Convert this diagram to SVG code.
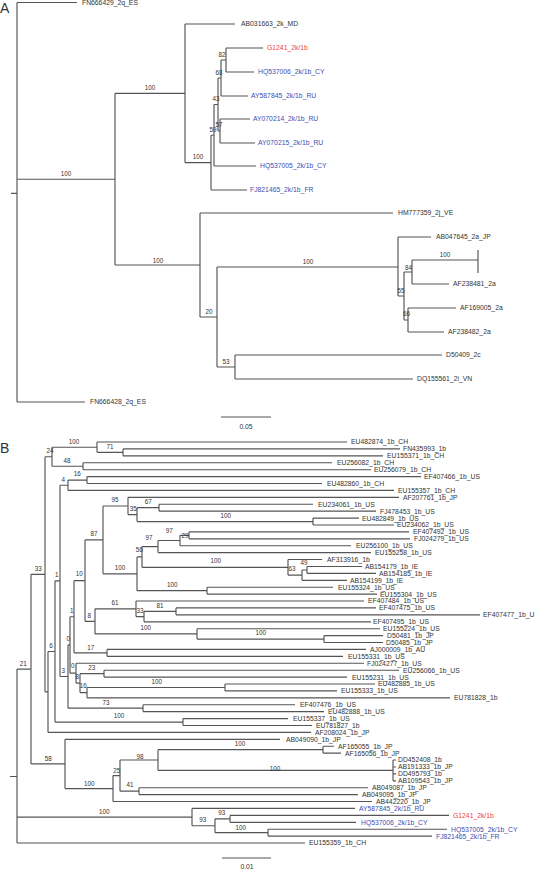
<svg xmlns="http://www.w3.org/2000/svg" width="535" height="878" viewBox="0 0 535 878">
<style>
.br{fill:none;stroke:#555;stroke-width:1.15}
.t{font-family:"Liberation Sans",Arial,sans-serif;font-size:6.8px;fill:#333}
.bs{font-family:"Liberation Sans",Arial,sans-serif;font-size:6.3px;fill:#333;text-anchor:middle}
.pl{font-family:"Liberation Sans",Arial,sans-serif;font-size:14px;fill:#333}
.sc{font-family:"Liberation Sans",Arial,sans-serif;font-size:6.8px;fill:#333;text-anchor:middle}
.blue{fill:#3c4eb0}
.red{fill:#e8453c}
</style>
<rect width="535" height="878" fill="#fff"/>
<text class="pl" x="0" y="13">A</text>
<text class="pl" x="0" y="453">B</text>

<g id="connectors">
<!-- Panel A -->
<path class="br" d="M17,2.5V402M17,2.5H77M17,179.2H115M17,402H85M11,193.3H17"/>
<path class="br" d="M115,93.3V265M115,93.3H185M115,265H200"/>
<path class="br" d="M185,24V162.6M185,24H235M185,162.6H211"/>
<path class="br" d="M211,135.2V190M211,135.2H214M211,190H247"/>
<path class="br" d="M214,104.5V166M214,104.5H218M214,166H256"/>
<path class="br" d="M218,78V131M218,78H221M218,131H220"/>
<path class="br" d="M221,60V96M221,60H226M221,96H248"/>
<path class="br" d="M226,48V72M226,48H263M226,72H254"/>
<path class="br" d="M220,119V143M220,119H250M220,143H255"/>
<path class="br" d="M200,213V317M200,213H393M200,317H217"/>
<path class="br" d="M217,267V367M217,267H398M217,367H235"/>
<path class="br" d="M398,237V296M398,237H431M398,296H404"/>
<path class="br" d="M404,272V320M404,272H412M404,320H408"/>
<path class="br" d="M412,260V284M412,260H478M478,250V273M412,284H449"/>
<path class="br" d="M408,308V332M408,308H456M408,332H444"/>
<path class="br" d="M235,355V379M235,355H442M235,379H413"/>
<path class="br" d="M221,417H271"/>
<!-- Panel B -->
<path class="br" d="M17,669.1V843M17,669.1H31M17,817.1H192M17,843H305M10,776.5H17"/>
<path class="br" d="M31,574.3V763.9M31,574.3H45M31,763.9H65"/>
<path class="br" d="M45,456.7V691.9M45,456.7H52M45,691.9H48"/>
<path class="br" d="M52,447.2V466.2M52,447.2H97M52,466.2H83"/>
<path class="br" d="M97,442V452.35M97,442H347M97,452.35H123"/>
<path class="br" d="M123,448.9V455.8M123,448.9H400M123,455.8H383"/>
<path class="br" d="M83,462.7V469.7M83,462.7H332M83,469.7H371"/>
<path class="br" d="M48,651.45V732.4M48,651.45H55M48,732.4H311"/>
<path class="br" d="M55,580.85V722.05M55,580.85H60M55,722.05H183"/>
<path class="br" d="M183,718.6V725.5M183,718.6H288M183,725.5H312"/>
<path class="br" d="M60,485.2V676.5M60,485.2H68M60,676.5H68"/>
<path class="br" d="M68,480.05V490.4M68,480.05H87M68,490.4H394"/>
<path class="br" d="M87,476.6V483.5M87,476.6H421M87,483.5H322"/>
<path class="br" d="M68,644.9V708.15M68,644.9H70M68,708.15H143"/>
<path class="br" d="M143,704.7V711.6M143,704.7H295M143,711.6H324"/>
<path class="br" d="M70,616.7V673.15M70,616.7H74M70,673.15H76"/>
<path class="br" d="M74,580.6V652.85M74,580.6H85M74,652.85H107"/>
<path class="br" d="M107,649.4V656.3M107,649.4H366M107,656.3H343"/>
<path class="br" d="M76,663.2V683.1M76,663.2H364M76,683.1H80"/>
<path class="br" d="M80,673.65V692.6M80,673.65H104M80,692.6H87"/>
<path class="br" d="M104,670.2V677.1M104,670.2H399M104,677.1H347"/>
<path class="br" d="M87,687.45V697.8M87,687.45H225M87,697.8H450"/>
<path class="br" d="M225,684V690.9M225,684H375M225,690.9H337"/>
<path class="br" d="M85,539.9V621.35M85,539.9H103M85,621.35H95"/>
<path class="br" d="M103,505.95V573.8M103,505.95H128M103,573.8H137"/>
<path class="br" d="M128,497.3V514.6M128,497.3H399M128,514.6H137"/>
<path class="br" d="M137,507.65V521.55M137,507.65H159M137,521.55H313"/>
<path class="br" d="M159,504.2V511.1M159,504.2H313M159,511.1H376"/>
<path class="br" d="M313,518.1V525M313,518.1H359M313,525H394"/>
<path class="br" d="M137,556.9V590.65M137,556.9H142M137,590.65H207"/>
<path class="br" d="M142,546.55V567.3M142,546.55H158M142,567.3H288"/>
<path class="br" d="M158,540.5V552.6M158,540.5H180M158,552.6H371"/>
<path class="br" d="M180,535.35V545.7M180,535.35H189M180,545.7H351"/>
<path class="br" d="M189,531.9V538.8M189,531.9H409M189,538.8H410"/>
<path class="br" d="M288,559.5V575.1M288,559.5H322M288,575.1H302"/>
<path class="br" d="M302,569.95V580.3M302,569.95H307M302,580.3H347"/>
<path class="br" d="M307,566.5V573.4M307,566.5H362M307,573.4H376"/>
<path class="br" d="M207,587.2V594.1M207,587.2H333M207,594.1H377"/>
<path class="br" d="M95,608.8V633.9M95,608.8H136M95,633.9H197"/>
<path class="br" d="M136,601V616.6M136,601H364M136,616.6H144"/>
<path class="br" d="M144,611.35V621.8M144,611.35H176M144,621.8H371"/>
<path class="br" d="M176,607.9V614.8M176,607.9H376M176,614.8H480"/>
<path class="br" d="M197,628.7V639.05M197,628.7H380M197,639.05H324"/>
<path class="br" d="M324,635.6V642.5M324,635.6H383M324,642.5H383"/>
<path class="br" d="M65,739.3V788.55M65,739.3H280M65,788.55H113"/>
<path class="br" d="M113,775.6V801.5M113,775.6H120M113,801.5H372"/>
<path class="br" d="M120,760V791.15M120,760H158M120,791.15H139"/>
<path class="br" d="M139,787.7V794.6M139,787.7H368M139,794.6H358"/>
<path class="br" d="M158,749.65V770.4M158,749.65H323M158,770.4H393"/>
<path class="br" d="M323,746.2V753.1M323,746.2H334M323,753.1H341"/>
<path class="br" d="M393,760V780.8M393,760H396M393,767H396M393,773.9H396M393,780.8H396"/>
<path class="br" d="M192,808.4V825.75M192,808.4H355M192,825.75H215"/>
<path class="br" d="M215,818.85V832.65M215,818.85H230M215,832.65H268"/>
<path class="br" d="M230,815.4V822.3M230,815.4H449M230,822.3H356"/>
<path class="br" d="M268,829.2V836.1M268,829.2H447M268,836.1H432"/>
<path class="br" d="M222,858H271"/>
</g>

<!-- Panel A tips -->
<g id="A_FN666429"><text class="t" x="82" y="5.2">FN666429_2q_ES</text></g>
<g id="A_AB031663"><text class="t" x="241" y="26.4">AB031663_2k_MD</text></g>
<g id="A_G1241"><text class="t red" x="267" y="50.4">G1241_2k/1b</text></g>
<g id="A_HQ537006"><text class="t blue" x="258" y="74.4">HQ537006_2k/1b_CY</text></g>
<g id="A_AY587845"><text class="t blue" x="251" y="98.4">AY587845_2k/1b_RU</text></g>
<g id="A_AY070214"><text class="t blue" x="253" y="121.4">AY070214_2k/1b_RU</text></g>
<g id="A_AY070215"><text class="t blue" x="258" y="145.4">AY070215_2k/1b_RU</text></g>
<g id="A_HQ537005"><text class="t blue" x="260" y="168.4">HQ537005_2k/1b_CY</text></g>
<g id="A_FJ821465"><text class="t blue" x="250" y="192.4">FJ821465_2k/1b_FR</text></g>
<g id="A_HM777359"><text class="t" x="398" y="215.4">HM777359_2j_VE</text></g>
<g id="A_AB047645"><text class="t" x="436" y="239.4">AB047645_2a_JP</text></g>
<g id="A_AF238481"><text class="t" x="453" y="286.4">AF238481_2a</text></g>
<g id="A_AF169005"><text class="t" x="460" y="310.4">AF169005_2a</text></g>
<g id="A_AF238482"><text class="t" x="448" y="334.4">AF238482_2a</text></g>
<g id="A_D50409"><text class="t" x="446" y="357.4">D50409_2c</text></g>
<g id="A_DQ155561"><text class="t" x="417" y="381.4">DQ155561_2i_VN</text></g>
<g id="A_FN666428"><text class="t" x="90" y="404.4">FN666428_2q_ES</text></g>

<!-- Panel A support values -->
<g id="A_boot">
<text class="bs" x="66" y="175.5">100</text>
<text class="bs" x="150" y="89.5">100</text>
<text class="bs" x="198" y="158.5">100</text>
<text class="bs" x="222" y="56.5">82</text>
<text class="bs" x="219" y="74.5">68</text>
<text class="bs" x="216" y="100.5">43</text>
<text class="bs" x="219" y="126.5">57</text>
<text class="bs" x="213" y="131.5">59</text>
<text class="bs" x="158" y="262.5">100</text>
<text class="bs" x="209" y="313.5">20</text>
<text class="bs" x="308" y="263.5">100</text>
<text class="bs" x="445" y="257">100</text>
<text class="bs" x="408.5" y="270">84</text>
<text class="bs" x="401" y="293">55</text>
<text class="bs" x="406.5" y="316">66</text>
<text class="bs" x="226" y="363.5">53</text>
</g>
<g id="A_scale"><text class="sc" x="246" y="428.5">0.05</text></g>

<!-- Panel B tips -->
<g id="B_tips">
<g id="B_EU482874"><text class="t" x="351" y="444.4">EU482874_1b_CH</text></g>
<g id="B_FN435993"><text class="t" x="403" y="451.3">FN435993_1b</text></g>
<g id="B_EU155371"><text class="t" x="387" y="458.2">EU155371_1b_CH</text></g>
<g id="B_EU256082"><text class="t" x="337" y="465.1">EU256082_1b_CH</text></g>
<g id="B_EU256079"><text class="t" x="374" y="472.1">EU256079_1b_CH</text></g>
<g id="B_EF407466"><text class="t" x="424" y="479">EF407466_1b_US</text></g>
<g id="B_EU482860"><text class="t" x="327" y="485.9">EU482860_1b_CH</text></g>
<g id="B_EU155357"><text class="t" x="398" y="492.8">EU155357_1b_CH</text></g>
<g id="B_AF207761"><text class="t" x="403" y="499.7">AF207761_1b_JP</text></g>
<g id="B_EU234061"><text class="t" x="318" y="506.6">EU234061_1b_US</text></g>
<g id="B_FJ478453"><text class="t" x="380" y="513.5">FJ478453_1b_US</text></g>
<g id="B_EU482849"><text class="t" x="362" y="520.5">EU482849_1b_US</text></g>
<g id="B_EU234062"><text class="t" x="397" y="527.4">EU234062_1b_US</text></g>
<g id="B_EF407492"><text class="t" x="413" y="534.3">EF407492_1b_US</text></g>
<g id="B_FJ024279"><text class="t" x="414" y="541.2">FJ024279_1b_US</text></g>
<g id="B_EU256100"><text class="t" x="356" y="548.1">EU256100_1b_US</text></g>
<g id="B_EU155258"><text class="t" x="375" y="555">EU155258_1b_US</text></g>
<g id="B_AF313916"><text class="t" x="327" y="561.9">AF313916_1b</text></g>
<g id="B_AB154179"><text class="t" x="365" y="568.9">AB154179_1b_IE</text></g>
<g id="B_AB154185"><text class="t" x="379" y="575.8">AB154185_1b_IE</text></g>
<g id="B_AB154199"><text class="t" x="350" y="582.7">AB154199_1b_IE</text></g>
<g id="B_EU155324"><text class="t" x="338" y="589.6">EU155324_1b_US</text></g>
<g id="B_EU155304"><text class="t" x="380" y="596.5">EU155304_1b_US</text></g>
<g id="B_EF407484"><text class="t" x="368" y="603.4">EF407484_1b_US</text></g>
<g id="B_EF407475"><text class="t" x="379" y="610.3">EF407475_1b_US</text></g>
<g id="B_EF407477"><text class="t" x="483" y="617.2">EF407477_1b_U</text></g>
<g id="B_EF407495"><text class="t" x="373" y="624.2">EF407495_1b_US</text></g>
<g id="B_EU155224"><text class="t" x="383" y="631.1">EU155224_1b_US</text></g>
<g id="B_D50481"><text class="t" x="387" y="638">D50481_1b_JP</text></g>
<g id="B_D50485"><text class="t" x="386" y="644.9">D50485_1b_JP</text></g>
<g id="B_AJ000009"><text class="t" x="370" y="651.8">AJ000009_1b_AU</text></g>
<g id="B_EU155331"><text class="t" x="348" y="658.7">EU155331_1b_US</text></g>
<g id="B_FJ024277"><text class="t" x="367" y="665.6">FJ024277_1b_US</text></g>
<g id="B_EU256066"><text class="t" x="403" y="672.6">EU256066_1b_US</text></g>
<g id="B_EU155231"><text class="t" x="352" y="679.5">EU155231_1b_US</text></g>
<g id="B_EU482885"><text class="t" x="378" y="686.4">EU482885_1b_US</text></g>
<g id="B_EU155333"><text class="t" x="341" y="693.3">EU155333_1b_US</text></g>
<g id="B_EU781828"><text class="t" x="454" y="700.2">EU781828_1b</text></g>
<g id="B_EF407476"><text class="t" x="300" y="707.1">EF407476_1b_US</text></g>
<g id="B_EU482888"><text class="t" x="328" y="714">EU482888_1b_US</text></g>
<g id="B_EU155337"><text class="t" x="293" y="721">EU155337_1b_US</text></g>
<g id="B_EU781827"><text class="t" x="316" y="727.9">EU781827_1b</text></g>
<g id="B_AF208024"><text class="t" x="315" y="734.8">AF208024_1b_JP</text></g>
<g id="B_AB049090"><text class="t" x="286" y="741.7">AB049090_1b_JP</text></g>
<g id="B_AF165055"><text class="t" x="338" y="748.6">AF165055_1b_JP</text></g>
<g id="B_AF165056"><text class="t" x="345" y="755.5">AF165056_1b_JP</text></g>
<g id="B_DD452408"><text class="t" x="398" y="762.4">DD452408_1b</text></g>
<g id="B_AB191333"><text class="t" x="398" y="769.4">AB191333_1b_JP</text></g>
<g id="B_DD495793"><text class="t" x="398" y="776.3">DD495793_1b</text></g>
<g id="B_AB109543"><text class="t" x="398" y="783.2">AB109543_1b_JP</text></g>
<g id="B_AB049087"><text class="t" x="372" y="790.1">AB049087_1b_JP</text></g>
<g id="B_AB049095"><text class="t" x="362" y="797">AB049095_1b_JP</text></g>
<g id="B_AB442220"><text class="t" x="376" y="803.9">AB442220_1b_JP</text></g>
<g id="B_AY587845"><text class="t blue" x="359" y="810.8">AY587845_2k/1b_RU</text></g>
<g id="B_G1241"><text class="t red" x="453" y="817.8">G1241_2k/1b</text></g>
<g id="B_HQ537006"><text class="t blue" x="361" y="824.7">HQ537006_2k/1b_CY</text></g>
<g id="B_HQ537005"><text class="t blue" x="451" y="831.6">HQ537005_2k/1b_CY</text></g>
<g id="B_FJ821465"><text class="t blue" x="436" y="838.5">FJ821465_2k/1b_FR</text></g>
<g id="B_EU155359"><text class="t" x="309" y="845.4">EU155359_1b_CH</text></g>
</g>

<!-- Panel B support values -->
<g id="B_boot">
<text class="bs" x="74" y="444">100</text>
<text class="bs" x="110" y="449">71</text>
<text class="bs" x="50" y="453">24</text>
<text class="bs" x="67" y="463">48</text>
<text class="bs" x="77.3" y="476.2">16</text>
<text class="bs" x="63.3" y="481.5">4</text>
<text class="bs" x="115" y="502.2">95</text>
<text class="bs" x="148.3" y="503.9">67</text>
<text class="bs" x="133.3" y="510.5">35</text>
<text class="bs" x="225.7" y="517.9">100</text>
<text class="bs" x="94" y="535.5">87</text>
<text class="bs" x="169.3" y="533.2">97</text>
<text class="bs" x="149" y="539.5">97</text>
<text class="bs" x="185" y="538.2">29</text>
<text class="bs" x="139.3" y="552.2">56</text>
<text class="bs" x="215.7" y="563.2">100</text>
<text class="bs" x="292" y="571.2">63</text>
<text class="bs" x="304" y="565.2">49</text>
<text class="bs" x="38.3" y="570.5">33</text>
<text class="bs" x="120" y="569.5">100</text>
<text class="bs" x="56.7" y="577.2">1</text>
<text class="bs" x="79.3" y="576.2">10</text>
<text class="bs" x="172.3" y="586.5">100</text>
<text class="bs" x="115" y="604.9">61</text>
<text class="bs" x="160" y="607.9">81</text>
<text class="bs" x="140" y="612.9">33</text>
<text class="bs" x="71.7" y="612.9">1</text>
<text class="bs" x="89.3" y="618.2">8</text>
<text class="bs" x="145.7" y="629.5">100</text>
<text class="bs" x="260.7" y="634.9">100</text>
<text class="bs" x="68.3" y="640.9">0</text>
<text class="bs" x="51" y="647.5">6</text>
<text class="bs" x="90.7" y="649.5">17</text>
<text class="bs" x="23.3" y="666.2">21</text>
<text class="bs" x="72.7" y="668.2">0</text>
<text class="bs" x="91.7" y="669.5">23</text>
<text class="bs" x="63.3" y="672.9">3</text>
<text class="bs" x="77.3" y="678.9">8</text>
<text class="bs" x="83.3" y="688.2">16</text>
<text class="bs" x="156.7" y="683.9">100</text>
<text class="bs" x="106" y="704.9">73</text>
<text class="bs" x="119" y="718.2">100</text>
<text class="bs" x="240" y="745.5">100</text>
<text class="bs" x="48.3" y="760.5">58</text>
<text class="bs" x="140" y="758.9">98</text>
<text class="bs" x="116.7" y="773.2">25</text>
<text class="bs" x="275" y="770.5">100</text>
<text class="bs" x="89.3" y="785.5">100</text>
<text class="bs" x="130" y="787.2">41</text>
<text class="bs" x="104.3" y="813.9">100</text>
<text class="bs" x="221.7" y="815.2">93</text>
<text class="bs" x="202.7" y="822.2">93</text>
<text class="bs" x="240.7" y="829.5">100</text>
</g>
<g id="B_scale"><text class="sc" x="247" y="869">0.01</text></g>
</svg>
